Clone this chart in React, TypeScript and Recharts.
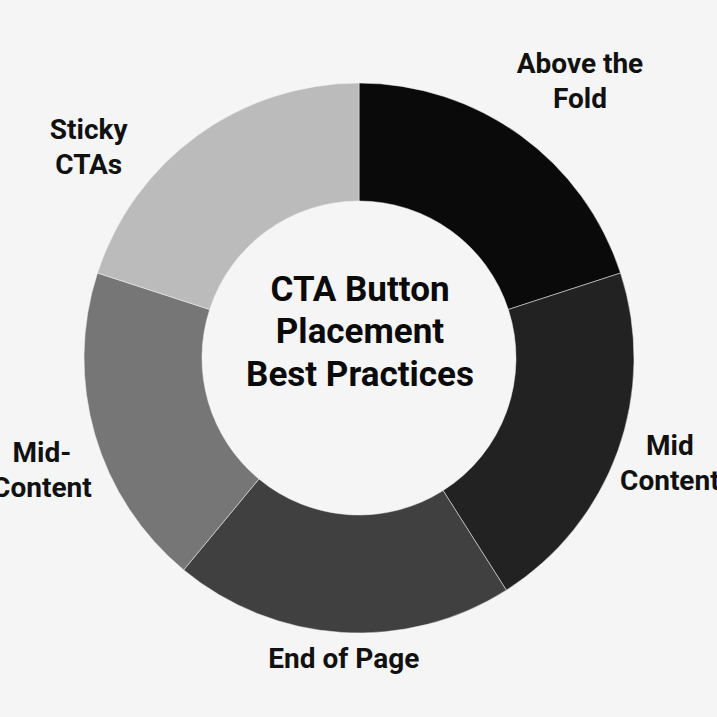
import { PieChart, Pie, Cell, Customized } from 'recharts';

// Slice data, clockwise from 12 o'clock
const placements = ['Above the Fold', 'Mid Content', 'End of Page', 'Mid-Content', 'Sticky CTAs'];
const shares = [20, 21, 20, 19, 20];
const labelLines = [['Above the', 'Fold'], ['Mid', 'Content'], ['End of Page'], ['Mid-', 'Content'], ['Sticky', 'CTAs']];
const titleLines = ['CTA Button', 'Placement', 'Best Practices'];

const colors = ['#0a0a0a', '#222222', '#404040', '#767676', '#bbbbbb'];

// label placement around the ring: angle shift (deg) and distance from center
const labelLayout = [
    { da: -2.5, r: 355 },
    { da: 1.2, r: 328 },
    { da: 0.7, r: 300 },
    { da: 3.1, r: 336 },
    { da: 16, r: 343 },
];

const data = placements.map((name, i) => ({ name, value: shares[i], lines: labelLines[i] }));

const FONT = 'Roboto, "Noto Sans", sans-serif';
const RAD = Math.PI / 180;
const CX = 359;
const CY = 358;

function SliceLabel(props: any) {
    const { cx, cy, midAngle, index } = props;
    const lay = labelLayout[index];
    const a = (midAngle + lay.da) * RAD;
    const x = cx + lay.r * Math.cos(a);
    const y = cy - lay.r * Math.sin(a);
    const lines: string[] = data[index].lines;
    const lh = 35;
    return (
        <text x={x} y={y} textAnchor="middle" fontFamily={FONT} fontWeight={700} fontSize={28} fill="#111">
            {lines.map((l, i) => (
                <tspan key={i} x={x} y={y + (i - (lines.length - 1) / 2) * lh + 10}>{l}</tspan>
            ))}
        </text>
    );
}

function CenterTitle() {
    return (
        <text x={CX + 1} textAnchor="middle" fontFamily={FONT} fontWeight={700} fontSize={35} fill="#0a0a0a">
            {titleLines.map((l, i) => (
                <tspan key={i} x={CX + 1} y={CY - 57.5 + i * 42.5}>{l}</tspan>
            ))}
        </text>
    );
}

export default function App() {
    return (
        <div style={{ position: 'absolute', left: 0, top: 0, width: 717, height: 717, background: '#f5f5f5', overflow: 'hidden' }}>
            <PieChart width={717} height={717} margin={{ top: 0, right: 0, bottom: 0, left: 0 }}>
                <Pie
                    data={data}
                    dataKey="value"
                    nameKey="name"
                    cx={CX}
                    cy={CY}
                    innerRadius={157}
                    outerRadius={275}
                    startAngle={90}
                    endAngle={-270}
                    stroke="#f5f5f5"
                    strokeWidth={0.5}
                    label={SliceLabel}
                    labelLine={false}
                    isAnimationActive={false}
                >
                    {data.map((d, i) => (
                        <Cell key={d.name} fill={colors[i]} />
                    ))}
                </Pie>
                <Customized component={CenterTitle} />
            </PieChart>
        </div>
    );
}
